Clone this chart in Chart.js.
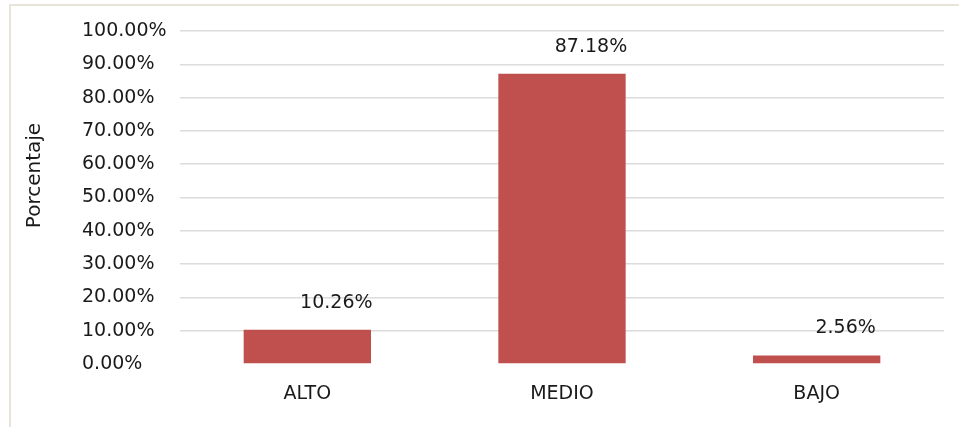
<!DOCTYPE html>
<html lang="es">
<head>
    <meta charset="UTF-8">
    <title>Porcentaje por nivel</title>
    <script src="https://cdn.jsdelivr.net/npm/chart.js"></script>
    <style>
        body {
            margin: 0;
            padding: 0;
            background: #fff;
        }
        .frame {
            position: absolute;
            left: 9px;
            top: 4px;
            width: 960px;
            height: 430px;
            border-top: 2px solid #e8e5d8;
            border-left: 2px solid #e8e5d8;
        }
        .wrap {
            position: absolute;
            left: 0;
            top: 0;
            width: 959px;
            height: 427px;
        }
    </style>
</head>
<body>

<div class="frame"></div>
<div class="wrap">
    <canvas id="nivelChart" width="959" height="427"></canvas>
</div>

<script>
    // datos
    const categorias = ['ALTO', 'MEDIO', 'BAJO'];
    const porcentajes = [10.26, 87.18, 2.56];
    const marcasY = [0, 10, 20, 30, 40, 50, 60, 70, 80, 90, 100];

    const fuente = 'DejaVu Sans';
    const colorTexto = '#1a1a1a';

    // etiquetas de valor encima de las barras (corridas a la derecha como en Excel)
    const etiquetasValor = {
        id: 'etiquetasValor',
        afterDatasetsDraw(chart) {
            const ctx = chart.ctx;
            const meta = chart.getDatasetMeta(0);
            ctx.save();
            ctx.font = '19px "' + fuente + '"';
            ctx.fillStyle = colorTexto;
            ctx.textAlign = 'center';
            ctx.textBaseline = 'middle';
            meta.data.forEach((bar, i) => {
                ctx.fillText(porcentajes[i].toFixed(2) + '%', bar.x + 29, bar.y - 27);
            });
            ctx.restore();
        }
    };

    // titulo del eje Y (Excel lo pone algo mas arriba que el centro)
    const tituloEje = {
        id: 'tituloEje',
        afterDraw(chart) {
            const ctx = chart.ctx;
            const area = chart.chartArea;
            ctx.save();
            ctx.font = '20px "' + fuente + '"';
            ctx.fillStyle = colorTexto;
            ctx.textAlign = 'center';
            ctx.textBaseline = 'middle';
            ctx.translate(35, (area.top + area.bottom) / 2 - 22);
            ctx.rotate(-Math.PI / 2);
            ctx.fillText('Porcentaje', 0, 0);
            ctx.restore();
        }
    };

    const ctx = document.getElementById('nivelChart').getContext('2d');
    const nivelChart = new Chart(ctx, {
        type: 'bar',
        data: {
            labels: categorias,
            datasets: [{
                data: porcentajes,
                backgroundColor: '#c0504d',
                borderWidth: 0,
                barPercentage: 0.5,
                categoryPercentage: 1.0
            }]
        },
        options: {
            responsive: false,
            animation: false,
            layout: {
                padding: { left: 82, right: 15, top: 31, bottom: 0 }
            },
            plugins: {
                legend: { display: false },
                tooltip: { enabled: false }
            },
            scales: {
                x: {
                    grid: { display: false, drawTicks: false },
                    border: { display: false },
                    ticks: {
                        color: colorTexto,
                        font: { family: fuente, size: 19 },
                        padding: 19
                    },
                    afterFit(scale) { scale.height = 63; }
                },
                y: {
                    min: 0,
                    max: 100,
                    afterBuildTicks(scale) {
                        scale.ticks = marcasY.map(v => ({ value: v }));
                    },
                    grid: {
                        color: ctx => ctx.tick && ctx.tick.value === 0 ? 'rgba(0,0,0,0)' : '#dcdcdc',
                        lineWidth: 1.5,
                        drawTicks: false
                    },
                    border: { display: false },
                    ticks: {
                        color: colorTexto,
                        font: { family: fuente, size: 19 },
                        crossAlign: 'far',
                        padding: 14,
                        callback: v => v.toFixed(2) + '%'
                    },
                    afterFit(scale) { scale.width = 98; }
                }
            }
        },
        plugins: [etiquetasValor, tituloEje]
    });
</script>

</body>
</html>
